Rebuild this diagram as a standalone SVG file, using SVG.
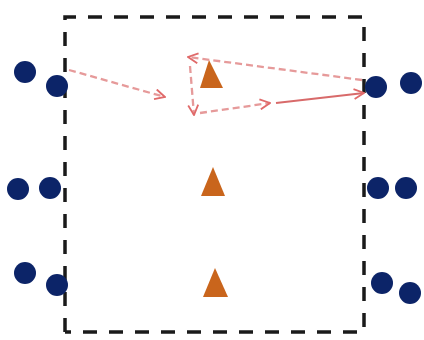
<svg xmlns="http://www.w3.org/2000/svg" width="424" height="340" viewBox="0 0 424 340">
  <style>
    .frame { fill: none; stroke: #1a1a1a; stroke-width: 3.5; stroke-dasharray: 14 12; }
    .dot { fill: #0c2468; }
    .tri { fill: #c9651c; }
    .flow { fill: none; stroke: #e69a9a; stroke-width: 2.3; stroke-dasharray: 7 4; }
    .flow.solid { stroke: #d86a6a; stroke-width: 2; stroke-dasharray: none; }
  </style>
  <defs>
    <marker id="chev" viewBox="0 0 12 12" refX="11" refY="6" markerWidth="12" markerHeight="12" markerUnits="userSpaceOnUse" orient="auto">
      <path d="M1,1 L11,6 L1,11" fill="none" stroke="#e06a6a" stroke-width="1.8"/>
    </marker>
  </defs>
  <rect width="424" height="340" fill="#ffffff"/>

  <!-- dashed boundary -->
  <g id="boundary">
    <path class="frame" d="M65,332 L65,17 L364,17 L364,332 L65,332"/>
  </g>

  <!-- outer dots, left side -->
  <g id="left-1"><circle class="dot" cx="25" cy="72" r="11"/><circle class="dot" cx="57" cy="86" r="11"/></g>
  <g id="left-2"><circle class="dot" cx="18" cy="189" r="11"/><circle class="dot" cx="50" cy="188" r="11"/></g>
  <g id="left-3"><circle class="dot" cx="25" cy="273" r="11"/><circle class="dot" cx="57" cy="285" r="11"/></g>

  <!-- outer dots, right side -->
  <g id="right-1"><circle class="dot" cx="376" cy="87" r="11"/><circle class="dot" cx="411" cy="83" r="11"/></g>
  <g id="right-2"><circle class="dot" cx="378" cy="188" r="11"/><circle class="dot" cx="406" cy="188" r="11"/></g>
  <g id="right-3"><circle class="dot" cx="382" cy="283" r="11"/><circle class="dot" cx="410" cy="293" r="11"/></g>

  <!-- inner markers -->
  <g id="tri-1"><polygon class="tri" points="209,60 200,88 223,88"/></g>
  <g id="tri-2"><polygon class="tri" points="213,167 201,196 225,196"/></g>
  <g id="tri-3"><polygon class="tri" points="215,268 203,297 228,297"/></g>

  <!-- flows -->
  <g id="connectors">
    <path class="flow" d="M69,70 L165,97" marker-end="url(#chev)"/>
    <path class="flow" d="M362,80 L188,57" marker-end="url(#chev)"/>
    <path class="flow" d="M190,66 L194,115" marker-end="url(#chev)"/>
    <path class="flow" d="M200,113 L270,103" marker-end="url(#chev)"/>
    <path class="flow solid" d="M276,103 L364,93" marker-end="url(#chev)"/>
  </g>
</svg>
